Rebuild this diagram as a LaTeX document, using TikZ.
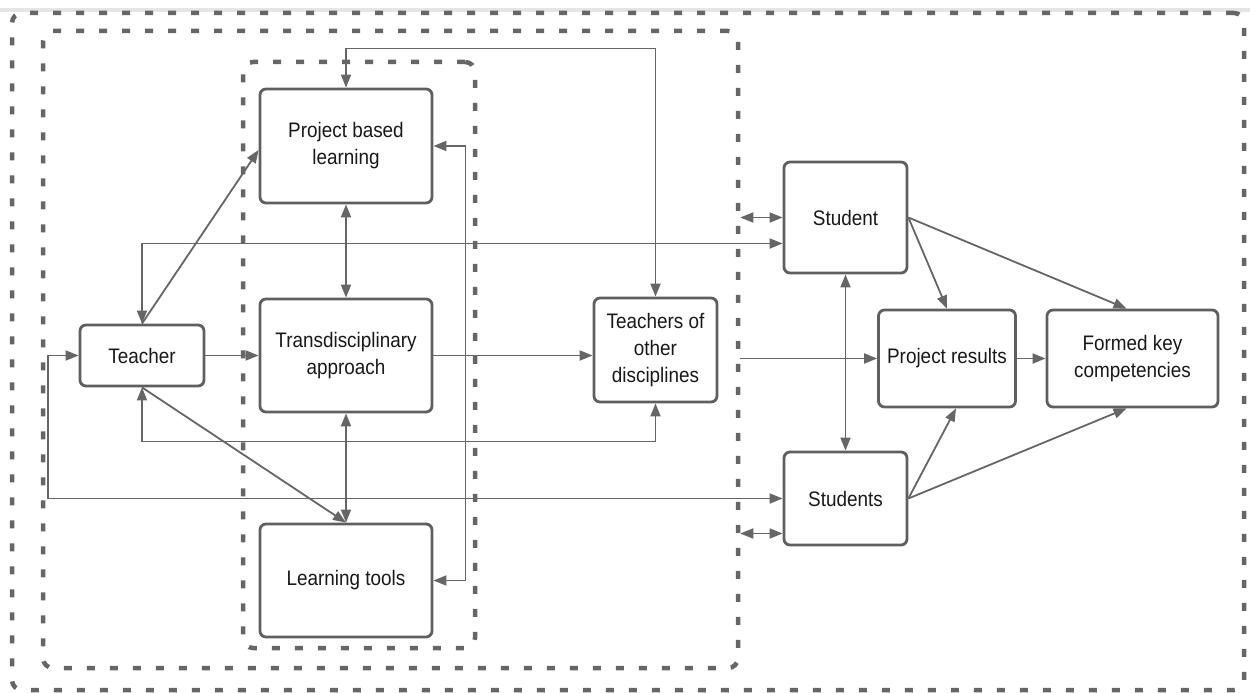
\documentclass[tikz,border=0pt]{standalone}
\usepackage{fontspec}
\setmainfont{Liberation Sans}[FakeStretch=0.9]
\usetikzlibrary{arrows.meta}
\definecolor{linegray}{HTML}{666666}
\definecolor{boxgray}{HTML}{5F5F5F}

\begin{document}
\begin{tikzpicture}[x=1pt, y=-1pt, >={Triangle[length=13pt, width=10pt]},
    box/.style={draw=boxgray, line width=2.8pt, rounded corners=6pt, fill=white, align=center, text=black!90, font=\fontsize{21}{27}\selectfont},
    frame/.style={draw=linegray, line width=4.5pt, rounded corners=10pt, dash pattern=on 8pt off 15pt},
    link/.style={draw=linegray, line width=1.8pt}]
    \useasboundingbox (0,0) rectangle (1250,693);
    \fill[black!10] (0,8) rectangle (1250,12);

    \node[frame, minimum width=1232pt, minimum height=677pt] (outer) at (628,351.5) {};
    \node[frame, minimum width=695pt, minimum height=637pt] (inner) at (390.5,349.5) {};
    \node[frame, minimum width=232pt, minimum height=586pt] (core) at (359,355) {};

    \node[box, minimum width=172pt, minimum height=114pt] (pbl) at (346,146) {Project based\\learning};
    \node[box, minimum width=172pt, minimum height=113pt] (trans) at (346,355.5) {Transdisciplinary\\approach};
    \node[box, minimum width=172pt, minimum height=113pt] (tools) at (346,580.5) {Learning tools};
    \node[box, minimum width=124pt, minimum height=61pt] (teacher) at (142,355.5) {Teacher};
    \node[box, minimum width=123pt, minimum height=104pt] (others) at (655.5,350) {Teachers of\\other\\disciplines};
    \node[box, minimum width=123pt, minimum height=111pt] (student) at (845.5,217.5) {Student};
    \node[box, minimum width=123pt, minimum height=93pt] (students) at (845.5,498.5) {Students};
    \node[box, minimum width=137pt, minimum height=97pt] (results) at (947,358.5) {Project results};
    \node[box, minimum width=171pt, minimum height=97pt] (formed) at (1132.5,358.5) {Formed key\\competencies};
    \coordinate (s2) at ([yshift=-35pt]students.west);

    \draw[link, ->] (teacher.east) -- (trans.west);
    \draw[link, ->] (teacher.north) -- ([yshift=-4pt]pbl.west);
    \draw[link, ->] (teacher.south) -- (tools.north);
    \draw[link, <->] (teacher.north) |- ([yshift=-26pt]student.west);
    \draw[link, <->] (teacher.south) -- ++(0,54) -| (others.south);
    \draw[link, <->] (teacher.west) -- ++(-31,0) |- (students.west);
    \draw[link, <->] (pbl.south) -- (trans.north);
    \draw[link, <->] (trans.south) -- (tools.north);
    \draw[link, ->] (trans.east) -- (trans.east -| others.west);
    \draw[link, <->] (pbl.north) -- ++(0,-39) -| (others.north);
    \draw[link, <->] (pbl.east) -- ++(32,0) |- (tools.east);
    \draw[link, ->] (inner.east |- results.west) -- (results.west);
    \draw[link, <->] (inner.east |- student.west) -- (student.west);
    \draw[link, <->] (inner.east |- s2) -- (s2);
    \draw[link, <->] (student.south) -- (students.north);
    \draw[link, ->] (student.east) -- (results.north);
    \draw[link, ->] (student.east) -- ([xshift=-6pt]formed.north);
    \draw[link, ->] (students.east) -- ([xshift=9pt]results.south);
    \draw[link, ->] (students.east) -- ([xshift=-6pt]formed.south);
    \draw[link, ->] (results.east) -- (formed.west);
\end{tikzpicture}
\end{document}
